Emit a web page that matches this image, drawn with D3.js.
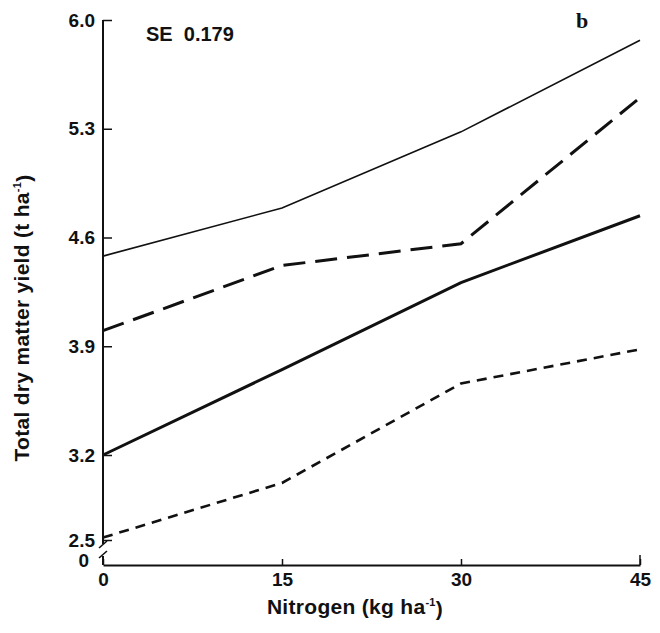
<!DOCTYPE html>
<html>
<head>
<meta charset="utf-8">
<script src="https://cdn.jsdelivr.net/npm/d3@7"></script>
<style>
  body { margin: 0; background: #fff; }
  text { font-family: "Liberation Sans", Arial, sans-serif; font-weight: bold; fill: #111; }
</style>
</head>
<body>
<div id="chart"></div>
<script>
// nitrogen rates and yields
var nitrogen = [0, 15, 30, 45];
var thinSolid = [4.48, 4.79, 5.28, 5.87];
var longDash = [4.00, 4.42, 4.56, 5.50];
var thickSolid = [3.20, 3.75, 4.31, 4.74];
var shortDash = [2.52, 2.97, 3.66, 3.88];
var yTicks = [0, 2.5, 3.2, 3.9, 4.6, 5.3, 6.0];
var xTicks = [0, 15, 30, 45];

var width = 660, height = 633;

var svg = d3.select("#chart").append("svg")
    .attr("width", width)
    .attr("height", height);

var x = d3.scaleLinear().domain([0, 45]).range([103, 640]);
// broken axis: 0 sits just under 2.5
var y = d3.scaleLinear().domain([0, 2.5, 3.2, 6.0]).range([565, 540, 455, 20]);

// x axis
var xAxis = svg.append("g")
    .attr("transform", "translate(0," + y(0) + ")")
    .call(d3.axisBottom(x).tickValues(xTicks).tickSize(-6).tickPadding(10).tickSizeOuter(0));
xAxis.select(".domain").attr("stroke", "#111").attr("stroke-width", 2.2);
xAxis.selectAll(".tick line").attr("stroke", "#111").attr("stroke-width", 1.5);
xAxis.selectAll(".tick text").attr("font-size", 19).attr("dy", "0.6em");
// right end tick goes up a bit more
svg.append("line").attr("x1", x(45)).attr("x2", x(45))
    .attr("y1", y(0)).attr("y2", y(0) - 10).attr("stroke", "#111").attr("stroke-width", 1.5);

// y axis
var yAxis = svg.append("g")
    .attr("transform", "translate(" + x(0) + ",0)")
    .call(d3.axisLeft(y).tickValues(yTicks).tickSize(-9).tickPadding(8)
        .tickFormat(function (d) { return d === 0 ? "0" : d3.format(".1f")(d); }));
yAxis.select(".domain").remove();
yAxis.selectAll(".tick line").attr("stroke", "#111").attr("stroke-width", 1.5)
    .filter(function (d) { return d === 0; }).remove();
yAxis.selectAll(".tick text").attr("font-size", 19)
    .filter(function (d) { return d === 0; }).attr("dx", "-6").attr("dy", "0.1em");

// y axis line with break marks
svg.append("line").attr("x1", x(0)).attr("x2", x(0))
    .attr("y1", y(6.0)).attr("y2", y(2.5) + 4).attr("stroke", "#111").attr("stroke-width", 2);
svg.append("line").attr("x1", x(0)).attr("x2", x(0))
    .attr("y1", y(0) - 9).attr("y2", y(0)).attr("stroke", "#111").attr("stroke-width", 2);
svg.append("line").attr("x1", x(0) - 4).attr("x2", x(0) + 4)
    .attr("y1", y(2.5) + 8).attr("y2", y(2.5) + 1).attr("stroke", "#111").attr("stroke-width", 1.6);
svg.append("line").attr("x1", x(0) - 4).attr("x2", x(0) + 4)
    .attr("y1", y(0) - 7).attr("y2", y(0) - 14).attr("stroke", "#111").attr("stroke-width", 1.6);

// series
var line = d3.line()
    .x(function (d, i) { return x(nitrogen[i]); })
    .y(function (d) { return y(d); });

var series = [
    {values: thinSolid, w: 1.6, dash: null},
    {values: longDash, w: 3, dash: "22,10"},
    {values: thickSolid, w: 3, dash: null},
    {values: shortDash, w: 2.6, dash: "10,7"}
];

svg.selectAll(".series")
    .data(series)
    .enter().append("path")
    .attr("class", "series")
    .attr("d", function (d) { return line(d.values); })
    .attr("fill", "none")
    .attr("stroke", "#111")
    .attr("stroke-width", function (d) { return d.w; })
    .attr("stroke-dasharray", function (d) { return d.dash; });

// annotations
svg.append("text").attr("x", 146).attr("y", 41).attr("font-size", 20)
    .attr("xml:space", "preserve").text("SE  0.179");
svg.append("text").attr("x", 576).attr("y", 28).attr("font-size", 22)
    .style("font-family", "'Liberation Serif', serif").text("b");

// axis titles
var xt = svg.append("text").attr("x", 355).attr("y", 614).attr("text-anchor", "middle")
    .attr("font-size", 21).attr("letter-spacing", 0.3);
xt.append("tspan").text("Nitrogen (kg ha");
xt.append("tspan").attr("font-size", 11).attr("dy", "-0.7em").text("-1");
xt.append("tspan").attr("dy", "0.45em").text(")");

var yt = svg.append("text").attr("transform", "translate(29,318) rotate(-90)")
    .attr("text-anchor", "middle").attr("font-size", 21).attr("letter-spacing", 0.3);
yt.append("tspan").text("Total dry matter yield (t ha");
yt.append("tspan").attr("font-size", 11).attr("dy", "-0.7em").text("-1");
yt.append("tspan").attr("dy", "0.45em").text(")");
</script>
</body>
</html>
